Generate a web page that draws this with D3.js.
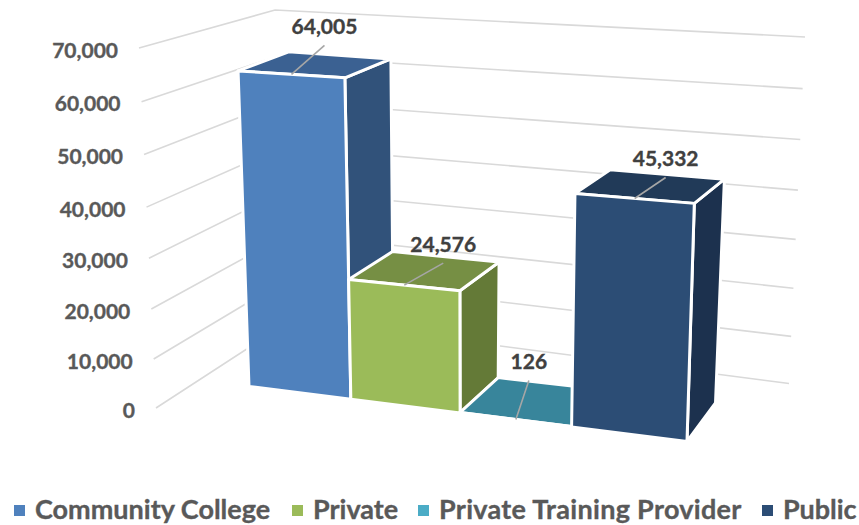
<!DOCTYPE html>
<html><head><meta charset="utf-8">
<script src="https://cdn.jsdelivr.net/npm/d3@7/dist/d3.min.js"></script>
<style>html,body{margin:0;padding:0;background:#fff}svg{display:block}text{font-family:Lato,"Open Sans",sans-serif;font-weight:700;stroke:currentColor;stroke-width:.35px}</style>
</head><body><svg id="c" width="859" height="525"></svg>
<script>
// ---- data ----
const categories = ["Community College","Private","Private Training Provider","Public"];
const values = [64005,24576,126,45332];
const valueLabels = ["64,005","24,576","126","45,332"];
const axisTicks = [0,10000,20000,30000,40000,50000,60000,70000];
const axisLabels = ["0","10,000","20,000","30,000","40,000","50,000","60,000","70,000"];
const colors = ["#4f81bd","#9bbb59","#4bacc6","#2c4d75"];
const topColors = ["#3b6192","#768f44","#38859b","#213a58"];
const sideColors = ["#31527a","#647a37","#2f6f82","#1c314e"];

// ---- scales (foreshortening in the tilted view) ----
const vScale = d3.scaleLinear().domain(axisTicks).range([0,.136,.275,.416,.558,.704,.851,1]);
const uScale = d3.scaleLinear().domain([0,1,2,3,4]).range([0,.2325,.482,.7365,1]);
const lerp = (a,b,t)=>[a[0]+(b[0]-a[0])*t, a[1]+(b[1]-a[1])*t];

// box containing the bars
const box = {
  fl0:[249,386.5], fl1:[237,40], fr0:[687,441.5], fr1:[698.5,67],
  bl0:[296,355],   bl1:[288,22], br0:[715.5,403], br1:[729.5,51]
};
function P(cat,val,w){
  const u=uScale(cat), v=vScale(val);
  const fb=lerp(box.fl0,box.fr0,u), ft=lerp(box.fl1,box.fr1,u);
  const bb=lerp(box.bl0,box.br0,u), bt=lerp(box.bl1,box.br1,u);
  return lerp(lerp(fb,ft,v),lerp(bb,bt,v),w);
}
// walls
const wall = {
  fl0:[156,408], fl1:[139,48], bl0:[293,319], bl1:[275,10], br0:[789,383.5], br1:[805,37]
};
const wallPt=(a,b,val)=>lerp(wall[a],wall[b],vScale(val));

const svg=d3.select("#c");
const line=d3.line();

// gridlines
svg.append("g").selectAll("path").data(axisTicks).join("path")
  .attr("fill","none").attr("stroke","#d9d9d9").attr("stroke-width",1.6)
  .attr("d",t=>line([wallPt("fl0","fl1",t),wallPt("bl0","bl1",t),wallPt("br0","br1",t)]));

// axis labels
svg.append("g").selectAll("text").data(axisTicks).join("text")
  .attr("text-anchor","end").attr("fill","#595959").style("color","#595959").attr("font-size",21)
  .attr("x",t=>wallPt("fl0","fl1",t)[0]-21)
  .attr("y",t=>wallPt("fl0","fl1",t)[1]+9.5)
  .text((t,i)=>axisLabels[i]);

// bars, left to right
const bars=svg.append("g").selectAll("g").data(categories).join("g");
const face=(g,pts,fill)=>g.append("path").attr("d",line(pts)+"Z").attr("fill",fill)
  .attr("stroke","#fff").attr("stroke-width",3).attr("stroke-linejoin","round");
bars.each(function(c,i){
  const g=d3.select(this), v=values[i];
  face(g,[P(i,0,0),P(i+1,0,0),P(i+1,0,1),P(i,0,1)],topColors[i]);
  face(g,[P(i+1,0,0),P(i+1,v,0),P(i+1,v,1),P(i+1,0,1)],sideColors[i]);
  face(g,[P(i,v,0),P(i+1,v,0),P(i+1,v,1),P(i,v,1)],topColors[i]);
  face(g,[P(i,0,0),P(i+1,0,0),P(i+1,v,0),P(i,v,0)],colors[i]);
});

// data labels with leaders
const labelOffsets=[[33,-47],[39,-40],[13,-57],[31,-39]];
const labels=svg.append("g").selectAll("g").data(values).join("g");
labels.each(function(v,i){
  const g=d3.select(this), a=P(i+.5,v,0), o=labelOffsets[i];
  const end=[a[0]+o[0],a[1]+o[1]+18];
  g.append("path").attr("d",line([a,end])).attr("stroke","#a6a6a6").attr("stroke-width",1.6).attr("fill","none");
  g.append("text").attr("x",a[0]+o[0]).attr("y",a[1]+o[1]+7).attr("text-anchor","middle")
   .attr("fill","#404040").style("color","#404040").attr("font-size",21).text(valueLabels[i]);
});

// legend
const legendX=[14,292,418,762];
const legendSpacing=[0,0,.3,-.05];
const leg=svg.append("g").selectAll("g").data(categories).join("g")
  .attr("transform",(d,i)=>`translate(${legendX[i]},0)`);
leg.append("rect").attr("y",505).attr("width",11).attr("height",11).attr("fill",(d,i)=>colors[i]);
leg.append("text").attr("x",21).attr("y",519).attr("fill","#595959").style("color","#595959")
  .attr("letter-spacing",(d,i)=>legendSpacing[i]).attr("font-size",27).text(d=>d);
</script></body></html>
